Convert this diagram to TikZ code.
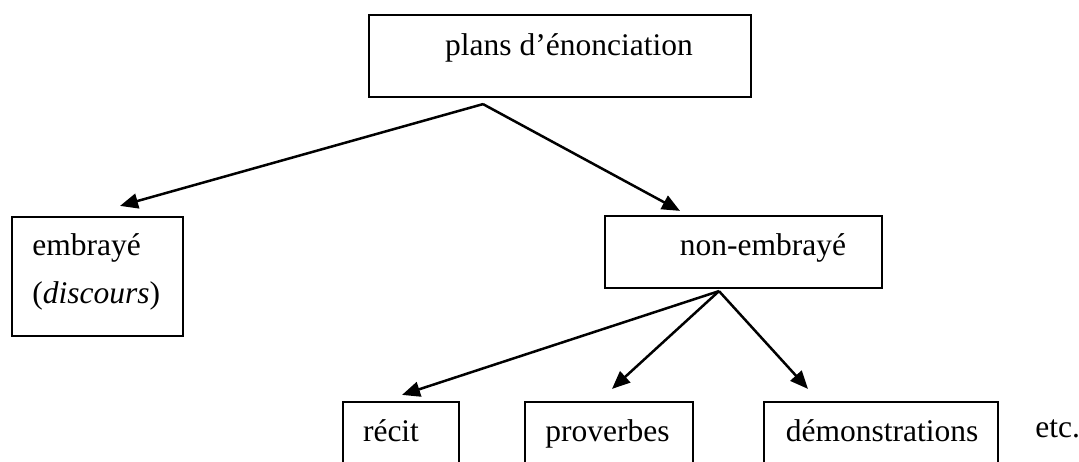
\documentclass[tikz,border=0pt]{standalone}
\usepackage{fontspec}
\setmainfont{Liberation Serif}
\usetikzlibrary{arrows.meta}
\begin{document}
\begin{tikzpicture}[x=0.5pt,y=-0.5pt,
  box/.style={draw, line width=1.1pt, inner sep=0pt},
  lbl/.style={inner sep=0pt, font=\fontsize{15.75}{18}\selectfont},
  arr/.style={line width=1.25pt, -{Triangle[length=9pt,width=7.5pt]}}]
\useasboundingbox (0,0) rectangle (1079,461);
\clip (0,0) rectangle (1079,461);

% boxes
\node[box, minimum width=191pt, minimum height=41pt] (top) at (560,56) {};
\node[box, minimum width=85.5pt, minimum height=59.5pt] (emb) at (97.5,276.5) {};
\node[box, minimum width=138.5pt, minimum height=36pt] (nonemb) at (743.5,252) {};
\node[box, minimum width=58pt, minimum height=39pt] (recit) at (401,441) {};
\node[box, minimum width=84pt, minimum height=39pt] (prov) at (609,441) {};
\node[box, minimum width=117pt, minimum height=39pt] (demo) at (881,441) {};

% labels
\node[lbl, anchor=base] (ttop) at (569,55) {plans d’énonciation};
\node[lbl, anchor=base west] (temb) at (32,255) {embrayé};
\node[lbl, anchor=base west] (tdisc) at (32,303) {(\textit{discours})};
\node[lbl, anchor=base] (tnon) at (763,255) {non-embrayé};
\node[lbl, anchor=base] (trec) at (391,441) {récit};
\node[lbl, anchor=base] (tprov) at (607.5,441) {proverbes};
\node[lbl, anchor=base] (tdemo) at (882,441) {démonstrations};
\node[lbl, anchor=base west] (tetc) at (1035,437) {etc.};

% branching points and arrow ends
\coordinate (f1) at ([shift={(-77,6)}]top.south);
\coordinate (f2) at ([shift={(-24.5,2)}]nonemb.south);
\coordinate (e1) at ([shift={(22.5,-10)}]emb.north);
\coordinate (e2) at ([shift={(-63.5,-4)}]nonemb.north);
\coordinate (e3) at ([shift={(1,-6)}]recit.north);
\coordinate (e4) at ([shift={(3,-12)}]prov.north);
\coordinate (e5) at ([shift={(-73,-12)}]demo.north);

% connectors
\draw[arr] (f1) -- (e1);
\draw[arr] (f1) -- (e2);
\draw[arr] (f2) -- (e3);
\draw[arr] (f2) -- (e4);
\draw[arr] (f2) -- (e5);
\end{tikzpicture}
\end{document}
